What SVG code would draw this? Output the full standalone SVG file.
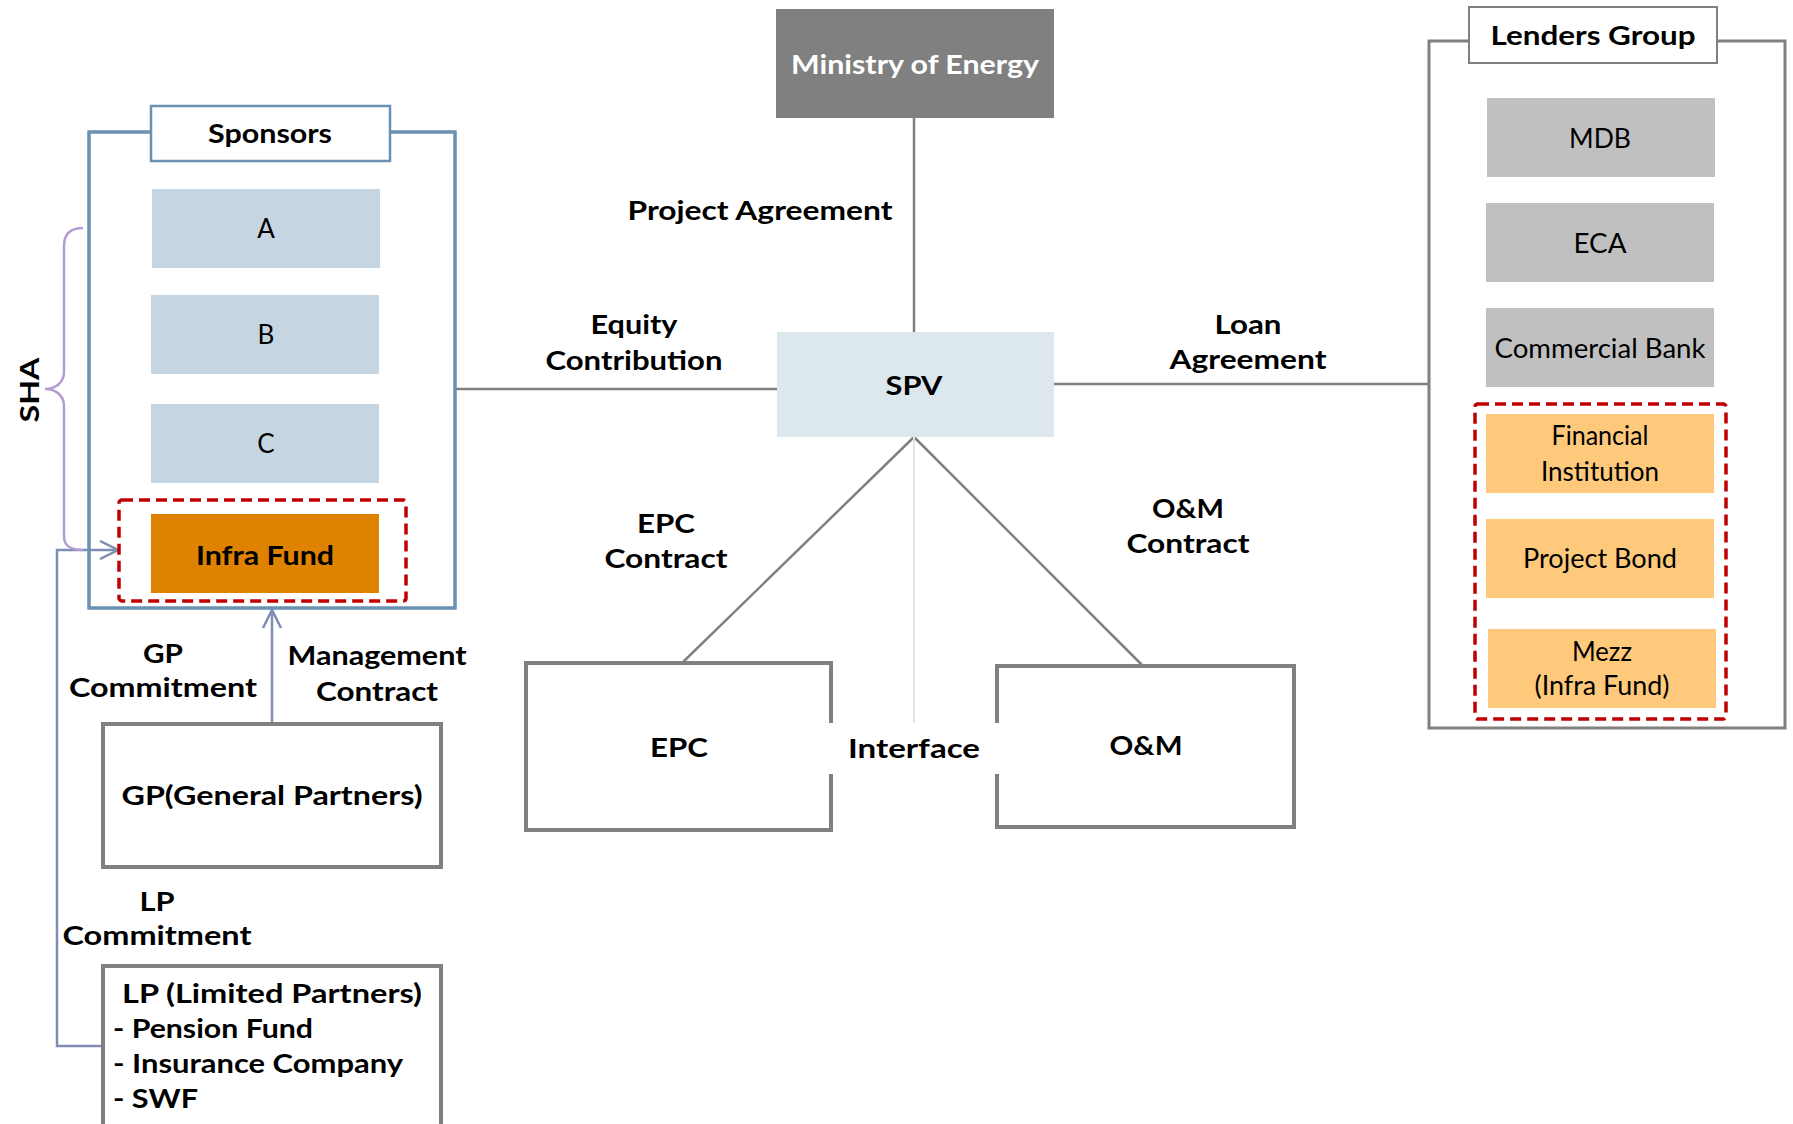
<svg xmlns="http://www.w3.org/2000/svg" width="1793" height="1124" viewBox="0 0 1793 1124">
<style>
text{font-family:Lato,"Open Sans","Liberation Sans",sans-serif;fill:#000;text-anchor:middle}
.b{font-weight:bold;font-size:27px}
.r{font-size:26px}
.w{fill:#fff}
.st{text-anchor:start}
.gbox{fill:#fff;stroke:#808080;stroke-width:4}
.conn{stroke:#808080;stroke-width:2.5;fill:none}
.blue{stroke:#7f8db3;stroke-width:2.5;fill:none}
.dash{fill:none;stroke:#c00000;stroke-width:3.5;stroke-dasharray:11 6}
.spon{fill:#c5d5e2}
.lend{fill:#c0c0c0}
.mezz{fill:#fec97b}
</style>
<defs>
<marker id="open" viewBox="0 0 20 20" refX="19" refY="10" markerWidth="20" markerHeight="20" markerUnits="userSpaceOnUse" orient="auto">
<path d="M1,1 L19,10 L1,19" fill="none" stroke="#7f8db3" stroke-width="2.5"/>
</marker>
</defs>
<rect width="1793" height="1124" fill="#fff"/>

<g id="connectors">
<line class="conn" x1="914" y1="118" x2="914" y2="332"/>
<line class="conn" x1="455" y1="389" x2="777" y2="389"/>
<line class="conn" x1="1054" y1="384" x2="1429" y2="384"/>
<line class="conn" x1="914" y1="437" x2="682" y2="663"/>
<line class="conn" x1="914" y1="437" x2="1143" y2="666"/>
<line x1="914" y1="437" x2="914" y2="723" stroke="#dde6ec" stroke-width="2"/>
<line class="blue" x1="272" y1="724" x2="272" y2="610" marker-end="url(#open)"/>
<polyline class="blue" points="103,1046 57,1046 57,550 118,550" marker-end="url(#open)"/>
<path d="M83,228 C70,228 64,234 64,246 L64,372 C64,382 56,389 45,389 C56,389 64,396 64,406 L64,536 C64,546 70,550 83,550" fill="none" stroke="#b29cd2" stroke-width="2.5"/>
</g>

<g id="sponsors">
<rect x="89" y="132" width="366" height="476" fill="none" stroke="#6a90b4" stroke-width="3.5"/>
<rect x="151" y="106" width="239" height="55" fill="#fff" stroke="#6a90b4" stroke-width="2.5"/>
<text class="b" x="270" y="143" textLength="124" lengthAdjust="spacingAndGlyphs">Sponsors</text>
</g>
<g id="sponsor-a"><rect class="spon" x="152" y="189" width="228" height="79"/><text class="r" x="266" y="238">A</text></g>
<g id="sponsor-b"><rect class="spon" x="151" y="295" width="228" height="79"/><text class="r" x="266" y="344">B</text></g>
<g id="sponsor-c"><rect class="spon" x="151" y="404" width="228" height="79"/><text class="r" x="266" y="453">C</text></g>
<g id="infra-fund">
<rect class="dash" x="119" y="500" width="287" height="101" rx="3"/>
<rect x="151" y="514" width="228" height="79" fill="#df8200"/>
<text class="b" x="265" y="565" font-size="28" textLength="138" lengthAdjust="spacingAndGlyphs">Infra Fund</text>
</g>
<g id="sha"><text class="b" font-size="30" transform="translate(39,390) rotate(-90)" x="0" y="0" textLength="65" lengthAdjust="spacingAndGlyphs">SHA</text></g>

<g id="gp">
<rect class="gbox" x="103" y="724" width="338" height="143"/>
<text class="b" x="272" y="805" textLength="301" lengthAdjust="spacingAndGlyphs">GP(General Partners)</text>
</g>
<g id="lp">
<rect class="gbox" x="103" y="966" width="338" height="170"/>
<text class="b" x="272" y="1003" textLength="300" lengthAdjust="spacingAndGlyphs">LP (Limited Partners)</text>
<text class="b st" x="113" y="1038" textLength="200" lengthAdjust="spacingAndGlyphs">- Pension Fund</text>
<text class="b st" x="113" y="1073" textLength="290" lengthAdjust="spacingAndGlyphs">- Insurance Company</text>
<text class="b st" x="113" y="1108" textLength="85" lengthAdjust="spacingAndGlyphs">- SWF</text>
</g>

<g id="labels">
<text class="b" x="163" y="663" textLength="40" lengthAdjust="spacingAndGlyphs">GP</text>
<text class="b" x="163" y="697" textLength="188" lengthAdjust="spacingAndGlyphs">Commitment</text>
<text class="b" x="377" y="665" textLength="179" lengthAdjust="spacingAndGlyphs">Management</text>
<text class="b" x="377" y="701" textLength="122" lengthAdjust="spacingAndGlyphs">Contract</text>
<text class="b" x="157" y="911" textLength="35" lengthAdjust="spacingAndGlyphs">LP</text>
<text class="b" x="157" y="945" textLength="189" lengthAdjust="spacingAndGlyphs">Commitment</text>
<text class="b" x="760" y="220" textLength="265" lengthAdjust="spacingAndGlyphs">Project Agreement</text>
<text class="b" x="634" y="334" textLength="87" lengthAdjust="spacingAndGlyphs">Equity</text>
<text class="b" x="634" y="370" textLength="177" lengthAdjust="spacingAndGlyphs">Contribution</text>
<text class="b" x="1248" y="334" textLength="67" lengthAdjust="spacingAndGlyphs">Loan</text>
<text class="b" x="1248" y="369" textLength="157" lengthAdjust="spacingAndGlyphs">Agreement</text>
<text class="b" x="666" y="533" textLength="58" lengthAdjust="spacingAndGlyphs">EPC</text>
<text class="b" x="666" y="568" textLength="123" lengthAdjust="spacingAndGlyphs">Contract</text>
<text class="b" x="1188" y="518" textLength="72" lengthAdjust="spacingAndGlyphs">O&amp;M</text>
<text class="b" x="1188" y="553" textLength="123" lengthAdjust="spacingAndGlyphs">Contract</text>
</g>

<g id="ministry">
<rect x="776" y="9" width="278" height="109" fill="#808080"/>
<text class="b w" x="915" y="74" textLength="248" lengthAdjust="spacingAndGlyphs">Ministry of Energy</text>
</g>
<g id="spv">
<rect x="777" y="332" width="277" height="105" fill="#dce7ee"/>
<text class="b" x="914" y="395" textLength="57" lengthAdjust="spacingAndGlyphs">SPV</text>
</g>
<g id="epc">
<rect class="gbox" x="526" y="663" width="305" height="167"/>
<text class="b" x="679" y="757" textLength="58" lengthAdjust="spacingAndGlyphs">EPC</text>
</g>
<g id="om">
<rect class="gbox" x="997" y="666" width="297" height="161"/>
<text class="b" x="1146" y="755" textLength="73" lengthAdjust="spacingAndGlyphs">O&amp;M</text>
</g>
<g id="interface">
<rect x="826" y="723" width="176" height="51" fill="#fff"/>
<text class="b" x="914" y="758" textLength="132" lengthAdjust="spacingAndGlyphs">Interface</text>
</g>

<g id="lenders">
<rect x="1429" y="41" width="356" height="687" fill="none" stroke="#808080" stroke-width="3"/>
<rect x="1469" y="7" width="248" height="56" fill="#fff" stroke="#808080" stroke-width="2"/>
<text class="b" x="1593" y="45" textLength="205" lengthAdjust="spacingAndGlyphs">Lenders Group</text>
</g>
<g id="mdb"><rect class="lend" x="1487" y="98" width="228" height="79"/><text class="r" x="1600" y="148" textLength="62" lengthAdjust="spacingAndGlyphs">MDB</text></g>
<g id="eca"><rect class="lend" x="1486" y="203" width="228" height="79"/><text class="r" x="1600" y="253" textLength="53" lengthAdjust="spacingAndGlyphs">ECA</text></g>
<g id="commercial-bank"><rect class="lend" x="1486" y="308" width="228" height="79"/><text class="r" x="1600" y="358" textLength="211" lengthAdjust="spacingAndGlyphs">Commercial Bank</text></g>
<g id="non-bank">
<rect class="dash" x="1475" y="404" width="251" height="315" rx="3"/>
</g>
<g id="financial-institution"><rect class="mezz" x="1486" y="414" width="228" height="79"/><text class="r" x="1600" y="445" textLength="97" lengthAdjust="spacingAndGlyphs">Financial</text><text class="r" x="1600" y="481" textLength="118" lengthAdjust="spacingAndGlyphs">Institution</text></g>
<g id="project-bond"><rect class="mezz" x="1486" y="519" width="228" height="79"/><text class="r" x="1600" y="568" textLength="154" lengthAdjust="spacingAndGlyphs">Project Bond</text></g>
<g id="mezz"><rect class="mezz" x="1488" y="629" width="228" height="79"/><text class="r" x="1602" y="661" textLength="60" lengthAdjust="spacingAndGlyphs">Mezz</text><text class="r" x="1602" y="695" textLength="135" lengthAdjust="spacingAndGlyphs">(Infra Fund)</text></g>
</svg>
